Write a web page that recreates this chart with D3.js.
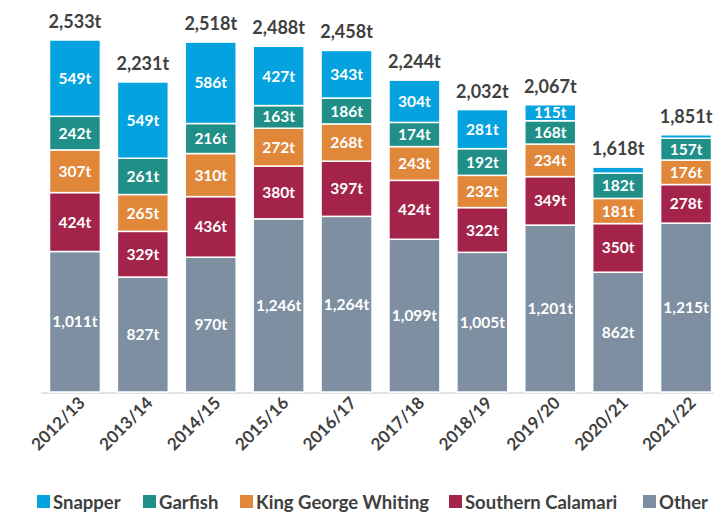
<!DOCTYPE html>
<html>
<head>
<meta charset="utf-8">
<script src="https://cdn.jsdelivr.net/npm/d3@7"></script>
<style>
  body { margin: 0; background: #fff; }
  text { font-family: Lato, "Open Sans", sans-serif; font-weight: bold; }
</style>
</head>
<body>
<div id="chart"></div>
<script>
// data
var seasons = ["2012/13", "2013/14", "2014/15", "2015/16", "2016/17", "2017/18", "2018/19", "2019/20", "2020/21", "2021/22"];
var species = ["Other", "Southern Calamari", "King George Whiting", "Garfish", "Snapper"];
var other    = [1011, 827, 970, 1246, 1264, 1099, 1005, 1201, 862, 1215];
var calamari = [424, 329, 436, 380, 397, 424, 322, 349, 350, 278];
var kgw      = [307, 265, 310, 272, 268, 243, 232, 234, 181, 176];
var garfish  = [242, 261, 216, 163, 186, 174, 192, 168, 182, 157];
var snapper  = [549, 549, 586, 427, 343, 304, 281, 115, 43, 25];
var totals   = [2533, 2231, 2518, 2488, 2458, 2244, 2032, 2067, 1618, 1851];

var colors = {
  "Snapper": "#04a3e0",
  "Garfish": "#1f8f87",
  "King George Whiting": "#e0873a",
  "Southern Calamari": "#a3234b",
  "Other": "#7d8fa1"
};

var width = 713, height = 513;

var rows = seasons.map(function(s, i) {
  return {season: s, "Other": other[i], "Southern Calamari": calamari[i],
    "King George Whiting": kgw[i], "Garfish": garfish[i], "Snapper": snapper[i], total: totals[i]};
});

var svg = d3.select("#chart").append("svg")
  .attr("width", width).attr("height", height);

var x = d3.scaleBand()
  .domain(seasons)
  .range([41, 720])
  .paddingInner(0.25)
  .paddingOuter(0.125);

var y = d3.scaleLinear()
  .domain([0, 2533])
  .range([392, 40]);

var stack = d3.stack().keys(species)(rows);
var fmt = d3.format(",");

// axis line
svg.append("line")
  .attr("x1", 41).attr("x2", 713)
  .attr("y1", y(0) + 1).attr("y2", y(0) + 1)
  .style("stroke", "#d9d9d9").style("stroke-width", 1.5);

var layers = svg.selectAll("g.layer")
  .data(stack)
  .enter().append("g")
  .attr("class", "layer")
  .style("fill", function(d) { return colors[d.key]; });

layers.selectAll("rect")
  .data(function(d) { return d; })
  .enter().append("rect")
  .attr("x", function(d) { return x(d.data.season); })
  .attr("y", function(d) { return y(d[1]); })
  .attr("width", x.bandwidth())
  .attr("height", function(d) { return y(d[0]) - y(d[1]); })
  .style("stroke", "#fff")
  .style("stroke-width", 1.5);

// segment labels
layers.selectAll("text")
  .data(function(d) { return d.filter(function(v) { return v[1] - v[0] >= 100; }); })
  .enter().append("text")
  .attr("x", function(d) { return x(d.data.season) + x.bandwidth() / 2; })
  .attr("y", function(d) { return (y(d[0]) + y(d[1])) / 2; })
  .attr("dy", "0.36em")
  .attr("text-anchor", "middle")
  .style("fill", "#fff")
  .style("font-size", "15.5px")
  .text(function(d) { return fmt(d[1] - d[0]) + "t"; });

// totals
svg.selectAll("text.total")
  .data(rows)
  .enter().append("text")
  .attr("class", "total")
  .attr("x", function(d) { return x(d.season) + x.bandwidth() / 2; })
  .attr("y", function(d) { return y(d.total) - 12; })
  .attr("text-anchor", "middle")
  .style("fill", "#404040")
  .style("font-size", "18px")
  .text(function(d) { return fmt(d.total) + "t"; });

// x tick labels
svg.selectAll("text.tick")
  .data(seasons)
  .enter().append("text")
  .attr("class", "tick")
  .attr("text-anchor", "end")
  .attr("transform", function(d) {
    return "translate(" + (x(d) + x.bandwidth() / 2 + 11) + ",404) rotate(-45)";
  })
  .style("fill", "#404040")
  .style("font-size", "17px")
  .text(function(d) { return d; });

// legend
var legendItems = ["Snapper", "Garfish", "King George Whiting", "Southern Calamari", "Other"];
var legendX = [37, 143, 240, 449, 643];
var legend = svg.selectAll("g.legend")
  .data(legendItems)
  .enter().append("g")
  .attr("class", "legend")
  .attr("transform", function(d, i) { return "translate(" + legendX[i] + ",495)"; });

legend.append("rect")
  .attr("width", 13).attr("height", 13)
  .attr("y", 0)
  .style("fill", function(d) { return colors[d]; });

legend.append("text")
  .attr("x", 16).attr("y", 7)
  .attr("dy", "0.36em")
  .style("fill", "#404040")
  .style("font-size", "18.5px")
  .text(function(d) { return d; });
</script>
</body>
</html>
